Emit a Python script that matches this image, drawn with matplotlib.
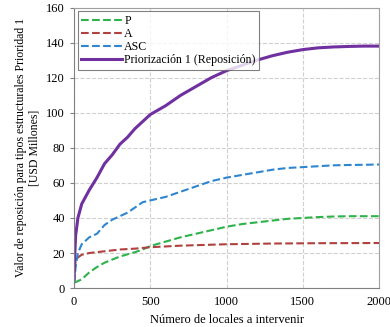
import numpy as np
import matplotlib
matplotlib.use('Agg')
import matplotlib.pyplot as plt

plt.rcParams['font.family'] = 'Liberation Serif'
plt.rcParams['font.size'] = 9

# data
x_p = [0, 50, 100, 150, 200, 300, 400, 450, 500, 600, 700, 800, 900, 1000,
       1100, 1200, 1300, 1400, 1500, 1600, 1700, 1800, 1900, 2000]
p_vals = [3, 5, 9, 12, 14.5, 18, 20.5, 22, 24, 26.5, 29, 31, 33, 35,
          36.5, 37.5, 38.5, 39.5, 40, 40.5, 40.8, 41, 41, 41]

x_a = [0, 10, 25, 50, 100, 200, 300, 400, 500, 700, 1000, 1300, 1600, 2000]
a_vals = [11, 15, 17.5, 19, 20, 21, 22, 22.5, 23.3, 24.2, 25, 25.4, 25.6, 25.7]

x_asc = [0, 10, 25, 50, 100, 150, 200, 250, 300, 350, 400, 450, 500, 600, 700,
         800, 900, 1000, 1100, 1200, 1300, 1400, 1500, 1600, 1700, 1800, 1900, 2000]
asc_vals = [3, 12, 20, 25, 29, 31, 36, 39, 41, 43, 46, 49, 50, 52, 55,
            58, 61, 63, 64.5, 66, 67.5, 68.5, 69, 69.5, 70, 70.2, 70.3, 70.5]

x_pr = [0, 5, 10, 25, 50, 75, 100, 150, 200, 250, 300, 350, 400, 450, 500, 600,
        700, 800, 900, 1000, 1100, 1200, 1300, 1400, 1500, 1600, 1700, 1800, 1900, 2000]
pr_vals = [5, 20, 30, 40, 48, 52, 56, 63, 71, 76, 82, 86, 91, 95, 99, 104,
           110, 115, 120, 124, 127, 130, 132.5, 134.5, 136, 137, 137.5, 137.8, 138, 138]

fig = plt.figure(figsize=(3.9, 3.27), dpi=100)
ax = fig.add_axes([0.19, 0.119, 0.782, 0.858])

ax.plot(x_p, p_vals, '--', color='#2db34a', lw=1.5, label='P')
ax.plot(x_a, a_vals, '--', color='#b0413e', lw=1.5, label='A')
ax.plot(x_asc, asc_vals, '--', color='#2e86d0', lw=1.5, label='ASC')
ax.plot(x_pr, pr_vals, '-', color='#7030a0', lw=2.2, label='Priorización 1 (Reposición)')

ax.set_xlim(0, 2000)
ax.set_ylim(0, 160)
ax.set_xticks([0, 500, 1000, 1500, 2000])
ax.set_yticks(np.arange(0, 161, 20))
ax.grid(True, ls='--', color='#d0d0d0', lw=0.8)
for s in ax.spines.values():
    s.set_color('#a0a0a0')
ax.spines['left'].set_color('#808080')
ax.spines['bottom'].set_color('#808080')
ax.tick_params(axis='y', length=3, color='#808080')
ax.tick_params(axis='x', length=0, pad=6)

ax.set_xlabel('Número de locales a intervenir')
ax.set_ylabel('Valor de reposición para tipos estructurales Prioridad 1\n[USD Millones]',
              fontsize=8.5)

leg = ax.legend(loc='upper left', fancybox=False, handlelength=3.4, fontsize=8.6,
                borderpad=0.3, labelspacing=0.1, handletextpad=0.2,
                borderaxespad=0.3)
leg.get_frame().set_edgecolor('#606060')
leg.get_frame().set_linewidth(0.8)

fig.savefig('out.png', dpi=100)
